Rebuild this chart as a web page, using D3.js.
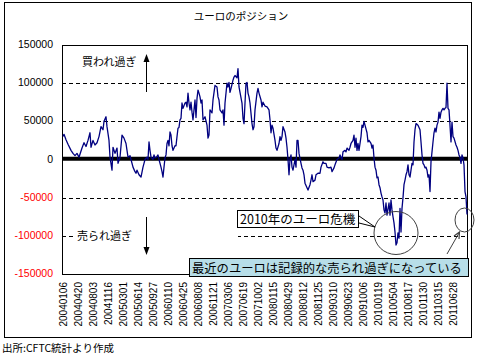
<!DOCTYPE html>
<html><head><meta charset="utf-8">
<script src="https://cdn.jsdelivr.net/npm/d3@7"></script>
<style>body{margin:0;background:#fff}svg{display:block}</style>
</head><body><svg id="c" width="479" height="359"></svg>
<script>
const title = "ユーロのポジション";
const source = "出所:CFTC統計より作成";
const yTicks = [150000, 100000, 50000, 0, -50000, -100000, -150000];
const gridTicks = [100000, 50000, -50000, -100000];
const xTickLabels = ["20040106","20040420","20040803","20041116","20050301","20050614","20050927","20060110","20060425","20060808","20061121","20070306","20070619","20071002","20080115","20080429","20080812","20081125","20090310","20090623","20091006","20100119","20100504","20100817","20101130","20110315","20110628"];
const xTickWeeks = [0,15,30,45,60,75,90,105,120,135,150,165,180,195,210,225,240,255,270,285,300,315,330,345,360,375,390];
// week offset from 2004-01-06 and net position (thousand contracts)
const weeks = [0,1,3,5,8,10,12,14,16,19,21,23,25,27,28,30,32,34,36,38,40,41,43,44,46,47,49,50,52,54,55,57,59,61,63,64,65,67,68,70,72,73,74,76,78,80,81,82,84,85,86,87,88,90,91,92,94,95,96,98,99,100,101,102,103,104,105,106,107,108,109,110,112,113,114,115,116,117,118,119,120,122,123,124,125,126,127,128,129,130,132,133,134,135,136,137,138,139,140,142,144,145,146,147,149,150,152,154,155,156,157,159,160,161,162,164,165,166,167,168,170,171,172,174,175,176,177,179,180,181,182,183,184,185,186,187,189,190,191,192,194,195,196,198,199,200,202,204,206,207,208,209,210,212,213,214,216,217,218,219,220,222,223,224,225,226,227,228,229,230,232,233,234,235,236,238,239,240,241,242,244,245,247,248,249,250,252,253,255,257,258,260,261,263,264,266,268,269,271,272,274,276,277,279,280,282,283,284,286,287,288,290,291,292,293,294,295,296,298,299,300,301,302,304,305,306,308,309,310,311,312,313,314,315,316,317,318,319,320,321,322,323,324,326,327,328,329,330,331,332,333,334,335,336,337,338,339,340,341,342,343,344,345,346,347,348,349,350,351,352,353,354,355,356,357,358,359,360,361,362,363,364,365,366,367,368,369,370,371,372,373,374,375,376,377,378,379,380,381,382,383,384,385,386,387,388,389,390,391,393,394,395,396,397,398,399,400,401,402,403,404];
const valuesK = [30,33,26,20,12,8,5,8,3,15,22,17,25,35,16,25,19,22,30,43,39,50,56,43,25,3,-14,16,8,15,-5,3,32,28,21,12,3,5,0,-10,-16,-18,-14,-20,-23,-10,-5,0,3,0,23,12,3,0,6,2,4,6,0,-10,-16,-23,-10,2,6,21,25,18,36,32,18,12,18,18,30,41,42,52,54,74,67,74,75,69,87,74,65,75,62,52,78,55,80,91,87,82,74,78,52,56,45,28,32,65,61,78,97,95,82,78,65,61,65,45,74,100,95,101,88,93,104,108,110,107,119,95,88,74,54,47,74,100,101,87,82,74,47,39,43,65,87,93,87,78,69,75,70,69,65,52,35,45,41,25,15,12,21,30,25,30,43,36,28,16,0,-20,0,6,-10,-14,0,-10,25,25,8,-5,-11,-14,-20,-31,-37,-40,-33,-27,-20,-29,-27,-20,-18,-18,-10,-3,-5,-5,-10,-11,-10,-16,-11,-7,0,2,6,0,10,12,10,15,12,16,21,25,32,16,28,12,21,12,30,45,42,50,45,35,23,25,21,15,19,2,-10,-14,-24,-23,-33,-37,-44,-49,-53,-66,-70,-57,-73,-57,-73,-53,-66,-75,-83,-95,-112,-109,-96,-103,-64,-95,-64,-50,-33,-27,-20,-16,-7,-20,-23,-14,-5,-7,23,39,47,46,45,42,39,23,6,-5,-7,-11,-10,-14,-23,-20,-42,-3,10,23,35,41,36,45,49,62,54,62,65,67,65,67,68,100,67,65,45,23,49,30,28,19,16,12,6,3,-5,6,2,-7,-42,-49,-72];

const svg = d3.select("#c");
const JP = "'Noto Sans CJK JP', 'Noto Sans', sans-serif";
const NUM = "'Liberation Sans', Arial, sans-serif";
const L = 62, R = 467, T = 45, B = 274;
const x = d3.scaleLinear().domain([0, 404]).range([63, 467]);
const y = d3.scaleLinear().domain([-150000, 150000]).range([B, T]);

svg.append("rect").attr("x", 4.5).attr("y", 2.5).attr("width", 467).attr("height", 335)
  .attr("fill", "#fff").attr("stroke", "#000").attr("stroke-width", 1);

svg.append("text").attr("x", 241).attr("y", 20).attr("text-anchor", "middle")
  .style("font-family", JP).style("font-size", "10.5px").text(title);

// grid
svg.append("g").selectAll("line").data(gridTicks).join("line")
  .attr("x1", L).attr("x2", R).attr("y1", d => Math.round(y(d)) + 0.5).attr("y2", d => Math.round(y(d)) + 0.5)
  .attr("stroke", "#000").attr("stroke-width", 1).attr("stroke-dasharray", "4,3");

svg.append("rect").attr("x", L + 0.5).attr("y", T + 0.5).attr("width", R - L).attr("height", B - T)
  .attr("fill", "none").attr("stroke", "#000").attr("stroke-width", 1);

// zero axis
svg.append("line").attr("x1", L).attr("x2", R + 1).attr("y1", y(0) - 0.8).attr("y2", y(0) - 0.8)
  .attr("stroke", "#000").attr("stroke-width", 4);

// y labels
svg.append("g").selectAll("text").data(yTicks).join("text")
  .attr("x", 53).attr("y", d => y(d) + 3)
  .attr("text-anchor", "end").style("font-family", NUM).style("font-size", "10.5px")
  .attr("fill", d => d < 0 ? "#ff0000" : "#000").text(d => d);

// x labels
svg.append("g").selectAll("text").data(xTickWeeks).join("text")
  .attr("transform", d => `translate(${x(d) + 3.5},282) rotate(-90)`)
  .attr("text-anchor", "end").style("font-family", NUM).style("font-size", "10px")
  .text((d, i) => xTickLabels[i]);

// data line
const pts = weeks.map((w, i) => [w, valuesK[i] * 1000]);
svg.append("path").datum(pts)
  .attr("d", d3.line().x(d => x(d[0])).y(d => y(d[1])))
  .attr("fill", "none").attr("stroke", "#000080").attr("stroke-width", 1.3).attr("stroke-linejoin", "round");

// annotations
svg.append("rect").attr("x", 75).attr("y", 229).attr("width", 163).attr("height", 14).attr("fill", "#fff");
svg.append("text").attr("x", 82).attr("y", 66).style("font-family", JP).style("font-size", "11px").text("買われ過ぎ");
svg.append("text").attr("x", 77).attr("y", 240).style("font-family", JP).style("font-size", "11px").text("売られ過ぎ");
svg.append("line").attr("x1", 146.5).attr("x2", 146.5).attr("y1", 92).attr("y2", 60).attr("stroke", "#000").attr("stroke-width", 1);
svg.append("path").attr("d", "M146.5,54 L143.5,62 L149.5,62 Z").attr("fill", "#000");
svg.append("line").attr("x1", 146.5).attr("x2", 146.5).attr("y1", 217).attr("y2", 249).attr("stroke", "#000").attr("stroke-width", 1);
svg.append("path").attr("d", "M146.5,255 L143.5,247 L149.5,247 Z").attr("fill", "#000");

// circles
svg.append("ellipse").attr("cx", 396).attr("cy", 233).attr("rx", 22).attr("ry", 21.5)
  .attr("fill", "none").attr("stroke", "#404040").attr("stroke-width", 1);
svg.append("ellipse").attr("cx", 464.5).attr("cy", 220).attr("rx", 9.5).attr("ry", 12)
  .attr("fill", "none").attr("stroke", "#404040").attr("stroke-width", 1);
// arrow to small circle
svg.append("line").attr("x1", 447).attr("y1", 254).attr("x2", 459).attr("y2", 233)
  .attr("stroke", "#404040").attr("stroke-width", 1);
svg.append("path").attr("d", "M454,236 L459.5,232 L459,239").attr("fill", "none").attr("stroke", "#404040").attr("stroke-width", 1.2);

// callout box 1
svg.append("path").attr("d", "M359,216 L375,227 L359,223").attr("fill", "#fff").attr("stroke", "#000").attr("stroke-width", 1);
svg.append("rect").attr("x", 237.5).attr("y", 210.5).attr("width", 121).attr("height", 17)
  .attr("fill", "#fff").attr("stroke", "#000").attr("stroke-width", 1);
svg.append("text").attr("x", 240).attr("y", 224).style("font-family", JP).style("font-size", "12.5px").text("2010年のユーロ危機");

// box 2
svg.append("rect").attr("x", 189.5).attr("y", 258.5).attr("width", 279).attr("height", 18)
  .attr("fill", "#b7dee8").attr("stroke", "#000").attr("stroke-width", 1);
svg.append("text").attr("x", 192).attr("y", 272.5).style("font-family", JP).style("font-size", "12.3px").text("最近のユーロは記録的な売られ過ぎになっている");

svg.append("text").attr("x", 2).attr("y", 352).style("font-family", JP).style("font-size", "10.5px").text(source);
</script>
</body></html>
